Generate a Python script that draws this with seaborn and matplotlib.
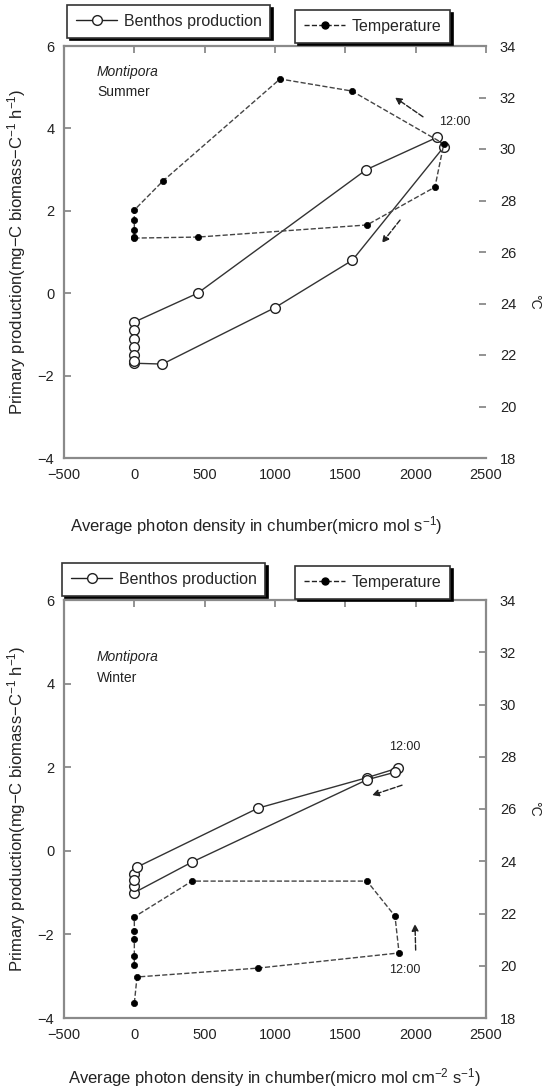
import matplotlib
matplotlib.use('Agg')
import matplotlib.pyplot as plt
import seaborn as sns
from matplotlib.lines import Line2D

sns.set_theme(style='white')
plt.rcParams['font.family'] = ['Liberation Sans', 'DejaVu Sans']
plt.rcParams['mathtext.default'] = 'regular'

# ---------------- data ----------------
# Summer: benthos production (left axis)
summer_prod_x = [0, 200, 1000, 1550, 2200, 2150, 1650, 450, 0, 0, 0, 0, 0, 0]
summer_prod_y = [-1.70, -1.72, -0.35, 0.80, 3.55, 3.78, 3.00, 0.00, -0.70, -0.90, -1.10, -1.30, -1.50, -1.65]
# Summer: temperature (right axis, deg C)
summer_temp_x = [0, 453, 1654, 2137, 2200, 1547, 1036, 204, 0, 0, 0, 0]
summer_temp_t = [26.54, 26.58, 27.05, 28.52, 30.2, 32.25, 32.72, 28.76, 27.63, 27.24, 26.85, 26.6]

# Winter: benthos production
winter_prod_x = [0, 19, 879, 1654, 1874, 1853, 1654, 410, 0, 0, 0]
winter_prod_y = [-0.55, -0.39, 1.02, 1.75, 1.98, 1.88, 1.70, -0.27, -1.00, -0.85, -0.70]
# Winter: temperature
winter_temp_x = [0, 19, 879, 1882, 1853, 1654, 410, 0, 0, 0, 0, 0]
winter_temp_t = [18.57, 19.57, 19.91, 20.49, 21.90, 23.24, 23.24, 21.87, 21.33, 21.02, 20.37, 20.03]

x_ticks = [-500, 0, 500, 1000, 1500, 2000, 2500]
y_ticks = [-4, -2, 0, 2, 4, 6]
t_ticks = [18, 20, 22, 24, 26, 28, 30, 32, 34]

ylabel = 'Primary production(mg\u2212C biomass\u2212C$^{-1}$ h$^{-1}$)'
xlabel_top = 'Average photon density in chumber(micro mol s$^{-1}$)'
xlabel_bot = 'Average photon density in chumber(micro mol cm$^{-2}$ s$^{-1}$)'

# ---------------- figure ----------------
fig = plt.figure(figsize=(5.48, 10.90), dpi=100)
W, H = 548, 1090
def pos(l, r, t, b):
    return [l / W, 1 - b / H, (r - l) / W, (b - t) / H]

ax_top = fig.add_axes(pos(64, 486, 46, 458))
ax_bot = fig.add_axes(pos(64, 486, 600, 1018))

spine_c = '#8a8a8a'
tick_fs = 10.5

def style_axes(ax, right_spine):
    ax2 = ax.twinx()
    for a in (ax, ax2):
        a.set_facecolor('none')
        a.grid(False)
    ax.set_xlim(-500, 2500)
    ax.set_ylim(-4, 6)
    ax2.set_ylim(18, 34)
    ax.set_xticks(x_ticks)
    ax.set_yticks(y_ticks)
    ax2.set_yticks(t_ticks)
    for s in ax.spines.values():
        s.set_color(spine_c)
        s.set_linewidth(1.6)
    ax.spines['right'].set_visible(False)
    for name, s in ax2.spines.items():
        s.set_visible(name == 'right' and right_spine)
        s.set_color(spine_c)
        s.set_linewidth(1.6)
    ax.tick_params(axis='both', direction='in', length=5, width=1.3, color=spine_c,
                   labelsize=tick_fs, labelcolor='#222222', pad=4)
    ax.tick_params(axis='x', top=True, labeltop=False, pad=7)
    ax.tick_params(axis='y', pad=7)
    ax2.tick_params(axis='y', direction='in', length=5, width=1.3, color=spine_c,
                    labelsize=tick_fs, labelcolor='#222222', pad=10)
    ax.set_ylabel(ylabel, fontsize=12, color='#222222')
    ax.yaxis.set_label_coords(-0.085, 0.5)
    ax2.set_ylabel('\u00b0C', fontsize=10, color='#222222', rotation=270, labelpad=14)
    return ax2

t_top = style_axes(ax_top, right_spine=False)
t_bot = style_axes(ax_bot, right_spine=True)

line_c = '#333333'
prod_kw = dict(color=line_c, lw=1.0, marker='o', ms=7, mfc='white', mec='#222222', mew=1.0,
               sort=False, estimator=None, legend=False)
temp_kw = dict(color='#444444', lw=1.0, linestyle='--', marker='o', ms=4.5, mfc='black',
               mec='black', mew=0.5, sort=False, estimator=None, legend=False)

sns.lineplot(x=summer_prod_x, y=summer_prod_y, ax=ax_top, zorder=3, **prod_kw)
sns.lineplot(x=summer_temp_x, y=summer_temp_t, ax=t_top, zorder=3, **temp_kw)
sns.lineplot(x=winter_prod_x, y=winter_prod_y, ax=ax_bot, zorder=3, **prod_kw)
sns.lineplot(x=winter_temp_x, y=winter_temp_t, ax=t_bot, zorder=3, **temp_kw)

for ax in (ax_top, ax_bot, t_top, t_bot):
    ax.set_xlim(-500, 2500)

# axis labels
ax_top.set_xlabel(xlabel_top, fontsize=12, color='#222222')
ax_top.xaxis.set_label_coords(0.455, -0.135)
ax_bot.set_xlabel(xlabel_bot, fontsize=12, color='#222222')
ax_bot.xaxis.set_label_coords(0.5, -0.115)
t_top.yaxis.set_label_coords(1.13, 0.38)
t_bot.yaxis.set_label_coords(1.13, 0.5)

# texts
ax_top.text(0.078, 0.937, 'Montipora', transform=ax_top.transAxes, fontsize=10,
            style='italic', va='center', color='#222222')
ax_top.text(0.078, 0.888, 'Summer', transform=ax_top.transAxes, fontsize=10,
            va='center', color='#222222')
ax_bot.text(0.078, 0.864, 'Montipora', transform=ax_bot.transAxes, fontsize=10,
            style='italic', va='center', color='#222222')
ax_bot.text(0.078, 0.813, 'Winter', transform=ax_bot.transAxes, fontsize=10,
            va='center', color='#222222')

ax_top.text(2280, 4.16, '12:00', fontsize=9, ha='center', va='center', color='#222222')
ax_bot.text(1924, 2.48, '12:00', fontsize=9, ha='center', va='center', color='#222222')
ax_bot.text(1924, -2.85, '12:00', fontsize=9, ha='center', va='center', color='#222222')

# direction arrows
arr = dict(arrowstyle='-|>', color='#222222', lw=1.0, linestyle='--', mutation_scale=10,
           shrinkA=0, shrinkB=0)
t_top.annotate('', xy=(1853, 32.0), xytext=(2052, 31.25), arrowprops=arr)
t_top.annotate('', xy=(1760, 26.35), xytext=(1889, 27.24), arrowprops=arr)
ax_bot.annotate('', xy=(1690, 1.33), xytext=(1903, 1.57), arrowprops=arr)
t_bot.annotate('', xy=(1995, 21.6), xytext=(2000, 20.6), arrowprops=arr)

# legends
h_prod = Line2D([], [], color='#222222', lw=1.0, marker='o', ms=7, mfc='white', mec='#222222')
h_temp = Line2D([], [], color='#222222', lw=1.0, ls='--', marker='o', ms=5, mfc='black', mec='black')
leg_kw = dict(loc='upper left', frameon=True, fancybox=False, framealpha=1,
              edgecolor='#333333', fontsize=11.5, handlelength=2.6, handletextpad=0.4,
              borderpad=0.55, borderaxespad=0,
              shadow={'color': 'black', 'alpha': 1.0})
for (lx, ly), (tx, ty) in [((67 / W, 1 - 5 / H), (295 / W, 1 - 10 / H)),
                          ((62 / W, 1 - 563 / H), (295 / W, 1 - 566 / H))]:
    l1 = fig.legend([h_prod], ['Benthos production'], bbox_to_anchor=(lx, ly), **leg_kw)
    l1.get_frame().set_linewidth(1.2)
    l2 = fig.legend([h_temp], ['Temperature'], bbox_to_anchor=(tx, ty), **leg_kw)
    l2.get_frame().set_linewidth(1.2)

fig.savefig('out.png', dpi=100)
